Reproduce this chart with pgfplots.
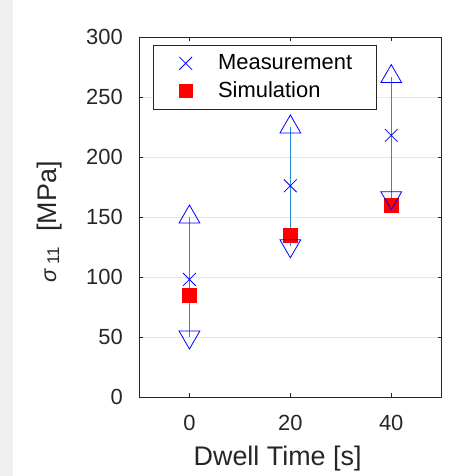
\documentclass[border=0pt]{standalone}
\usepackage{fontspec}
\setmainfont{Liberation Sans}
\usepackage{pgfplots}
\usepackage{pgfplotstable}
\pgfplotsset{compat=1.18}
\definecolor{axisgray}{HTML}{262626}
\definecolor{gridgray}{HTML}{E6E6E6}
\definecolor{barblue}{HTML}{2B8AD6}

% dwell time, measured mean, lower/upper bound, simulation
\pgfplotstableread{
x  meas lo  hi  sim
0  98   50  150 85
20 176  126 225 135
40 218  166 267 160
}\data

\pgfplotsset{legmark/.style={legend image code/.code={%
  \path (-20bp,0) (20bp,0);
  \draw[##1] plot coordinates {(0bp,0bp)};}}}

\begin{document}
\begin{tikzpicture}
\useasboundingbox (0,0) rectangle (449bp,476bp);
\fill[black!6] (0,0) rectangle (13bp,476bp);
\begin{axis}[
  at={(139bp,79bp)}, anchor=south west,
  scale only axis, width=302.7bp, height=360bp,
  xmin=-10, xmax=50, ymin=0, ymax=300,
  xtick={0,20,40}, ytick={0,50,...,300},
  ymajorgrids, grid style={gridgray, line width=0.8bp},
  axis line style={axisgray, line width=0.8bp},
  tick style={axisgray, line width=0.8bp},
  major tick length=4bp,
  tick label style={font=\fontsize{22}{26}\selectfont, text=axisgray},
  /pgf/number format/assume math mode=true,
  xticklabel style={inner sep=0pt, anchor=north, yshift=-18bp},
  yticklabel style={inner sep=0pt, anchor=east, xshift=-16bp},
  xlabel={Dwell Time [s]},
  xlabel style={at={(axis description cs:0.458,-0.189)}, anchor=base,
    font=\fontsize{27}{32}\selectfont, text=axisgray},
  ylabel={{\fontsize{22}{26}\selectfont\textit{σ}}\,\raisebox{-3bp}{\fontsize{17}{20}\selectfont 11}\ \ [MPa]},
  ylabel style={at={(axis description cs:-0.274,0.486)}, anchor=base,
    font=\fontsize{27}{32}\selectfont, text=axisgray},
  legend style={at={(axis description cs:0.046,0.978)}, anchor=north west,
    draw=axisgray, line width=0.8bp, fill=white,
    font=\fontsize{22}{26}\selectfont,
    inner xsep=12bp, inner ysep=7bp, row sep=6bp, column sep=12bp,
    nodes={inner sep=0pt, text height=17bp, text depth=5bp}},
  legend cell align=left,
]
\addplot[forget plot, only marks, mark=square*, mark size=7bp, red]
  table[x=x, y=sim] {\data};
% range lines between lower and upper bound
\addplot[forget plot, barblue, line width=0.8bp] coordinates {(0,50) (0,150)};
\addplot[forget plot, barblue, line width=0.8bp] coordinates {(20,126) (20,225)};
\addplot[forget plot, barblue, line width=0.8bp] coordinates {(40,166) (40,267)};
\addplot[forget plot, only marks, mark=triangle, mark size=12bp, blue,
  mark options={line width=0.8bp}]
  table[x=x, y=hi] {\data};
\addplot[forget plot, only marks, mark=triangle, mark size=12bp, blue,
  mark options={line width=0.8bp, rotate=180}]
  table[x=x, y=lo] {\data};
\addplot[only marks, mark=x, mark size=9bp, blue, line width=0.8bp, legmark]
  table[x=x, y=meas] {\data};
\addlegendentry{Measurement\hspace*{12.6bp}}
\addlegendimage{only marks, mark=square*, mark size=6.5bp, red, legmark}
\addlegendentry{Simulation}
\end{axis}
\end{tikzpicture}
\end{document}
